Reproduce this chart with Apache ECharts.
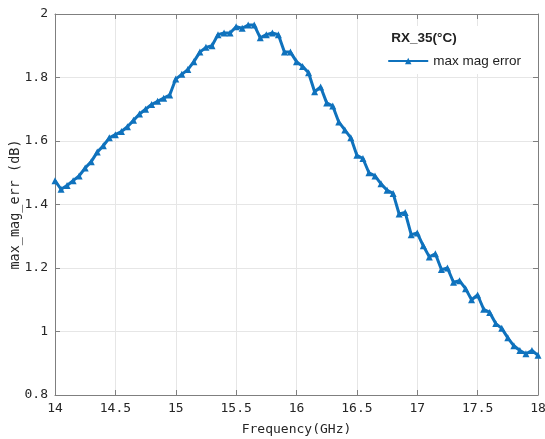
<!DOCTYPE html>
<html>
<head>
<meta charset="utf-8">
<script src="https://cdn.jsdelivr.net/npm/echarts@6/dist/echarts.min.js"></script>
<style>html,body{margin:0;padding:0;background:#fff}#c{width:545px;height:439px}</style>
</head>
<body>
<div id="c"></div>
<script>
const freqs = [];
for (let i = 0; i <= 80; i++) freqs.push(+(14 + i * 0.05).toFixed(2));
const maxMagError = [
  1.475, 1.448, 1.46, 1.475, 1.49, 1.515, 1.535, 1.565, 1.585, 1.61,
  1.62, 1.63, 1.645, 1.665, 1.685, 1.70, 1.715, 1.725, 1.735, 1.745,
  1.795, 1.81, 1.825, 1.85, 1.88, 1.895, 1.90, 1.935, 1.94, 1.94,
  1.96, 1.955, 1.965, 1.965, 1.925, 1.935, 1.94, 1.935, 1.88, 1.88,
  1.85, 1.835, 1.815, 1.755, 1.77, 1.72, 1.71, 1.66, 1.635, 1.61,
  1.555, 1.545, 1.50, 1.49, 1.465, 1.445, 1.435, 1.37, 1.375, 1.305,
  1.31, 1.27, 1.235, 1.245, 1.195, 1.20, 1.155, 1.16, 1.135, 1.10,
  1.115, 1.07, 1.06, 1.025, 1.01, 0.98, 0.955, 0.94, 0.93, 0.94,
  0.925
];
const xTicks = [14, 14.5, 15, 15.5, 16, 16.5, 17, 17.5, 18];
const yTicks = [0.8, 1, 1.2, 1.4, 1.6, 1.8, 2];
const seriesName = 'max mag error';
const legendTitle = 'RX_35(\u00B0C)';

const mono = 'DejaVu Sans Mono';
const axisCol = '#262626';
const lineCol = '#0f72bd';
const chart = echarts.init(document.getElementById('c'));
const fmt = v => String(+v.toFixed(2));
chart.setOption({
  animation: false,
  backgroundColor: '#fff',
  grid: { left: 55, right: 7, top: 14, bottom: 44, containLabel: false, outerBoundsMode: 'none' },
  xAxis: [{
    type: 'value', min: 14, max: 18, interval: 0.5,
    name: 'Frequency(GHz)', nameLocation: 'middle', nameGap: 28, nameMoveOverlap: false,
    nameTextStyle: { fontFamily: mono, fontSize: 13, color: axisCol },
    axisLine: { show: true, onZero: false, lineStyle: { color: '#7f7f7f', width: 1 } },
    axisTick: { show: true, inside: true, length: 5, lineStyle: { color: '#7f7f7f' } },
    axisLabel: { fontFamily: mono, fontSize: 13, color: axisCol, margin: 7, formatter: fmt },
    splitLine: { show: true, lineStyle: { color: '#e6e6e6', width: 1 } }
  }, {
    type: 'value', min: 14, max: 18, interval: 0.5, position: 'top',
    axisLine: { show: true, lineStyle: { color: '#7f7f7f', width: 1 } },
    axisTick: { show: true, inside: true, length: 5, lineStyle: { color: '#7f7f7f' } },
    axisLabel: { show: false }, splitLine: { show: false }
  }],
  yAxis: [{
    type: 'value', min: 0.8, max: 2, interval: 0.2,
    name: 'max_mag_err (dB)', nameLocation: 'middle', nameGap: 33, nameMoveOverlap: false,
    nameTextStyle: { fontFamily: mono, fontSize: 13.5, color: axisCol },
    axisLine: { show: true, onZero: false, lineStyle: { color: '#7f7f7f', width: 1 } },
    axisTick: { show: true, inside: true, length: 5, lineStyle: { color: '#7f7f7f' } },
    axisLabel: { fontFamily: mono, fontSize: 13, color: axisCol, margin: 7, formatter: fmt },
    splitLine: { show: true, lineStyle: { color: '#e6e6e6', width: 1 } }
  }, {
    type: 'value', min: 0.8, max: 2, interval: 0.2, position: 'right',
    axisLine: { show: true, lineStyle: { color: '#7f7f7f', width: 1 } },
    axisTick: { show: true, inside: true, length: 5, lineStyle: { color: '#7f7f7f' } },
    axisLabel: { show: false }, splitLine: { show: false }
  }],
  legend: {
    data: [seriesName],
    right: 18, top: 26,
    padding: [28, 6, 6, 6],
    backgroundColor: '#fff',
    itemWidth: 40, itemHeight: 8, itemGap: 4,
    textStyle: { fontFamily: 'Liberation Sans', fontSize: 13.5, color: '#222' }
  },
  graphic: [{
    type: 'text', x: 424, y: 38, z: 100,
    style: { text: legendTitle, fontFamily: 'Liberation Sans', fontWeight: 'bold', fontSize: 13.5, fill: '#222', align: 'center', verticalAlign: 'middle' }
  }],
  series: [{
    name: seriesName,
    type: 'line',
    data: freqs.map((f, i) => [f, maxMagError[i]]),
    symbol: 'triangle', symbolSize: 7, showSymbol: true,
    lineStyle: { color: lineCol, width: 3 },
    itemStyle: { color: lineCol },
    z: 3
  }]
});
</script>
</body>
</html>
